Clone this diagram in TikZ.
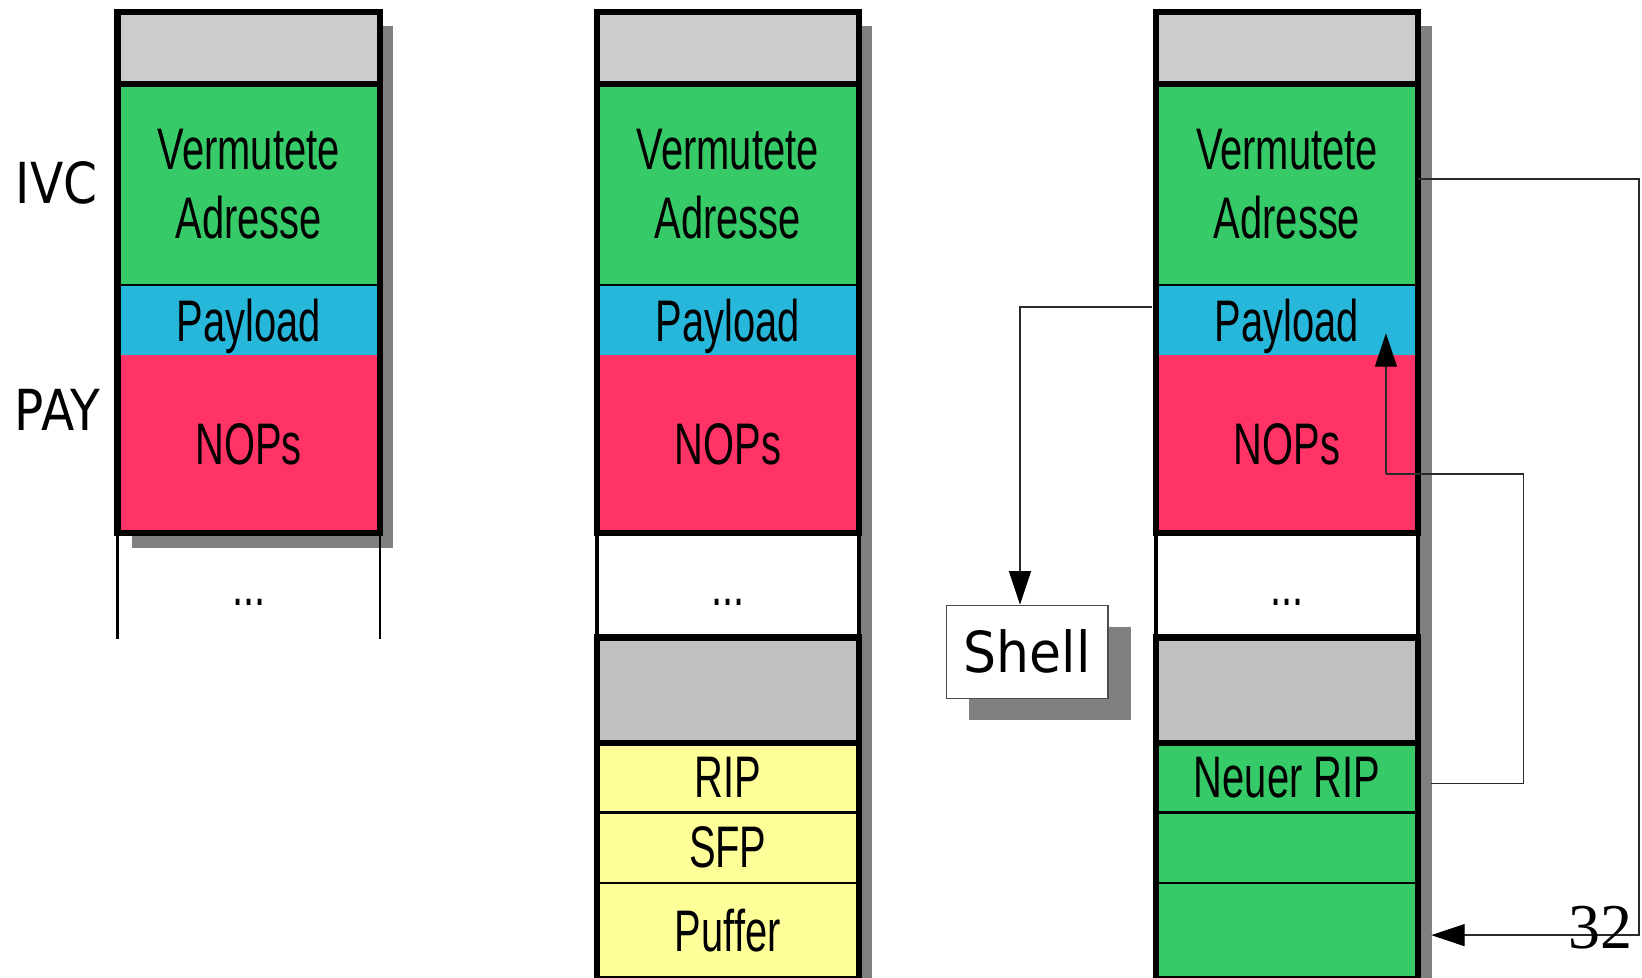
\documentclass[tikz,border=0pt]{standalone}
\usepackage{fontspec}
\usetikzlibrary{arrows.meta,calc}
\newfontfamily\cellfont[FakeStretch=0.68]{Liberation Sans}
\newfontfamily\labelfont[FakeStretch=0.86]{DejaVu Sans}
\newfontfamily\shellfont[FakeStretch=0.92]{DejaVu Sans}
\newfontfamily\numfont{Liberation Serif}
\definecolor{grayTop}{HTML}{CCCCCC}
\definecolor{grayLow}{HTML}{C0C0C0}
\definecolor{addrGreen}{HTML}{36CB68}
\definecolor{payBlue}{HTML}{26B7DB}
\definecolor{nopPink}{HTML}{FF3366}
\definecolor{frameYellow}{HTML}{FFFF99}
\definecolor{shadowGray}{HTML}{808080}
\definecolor{wireGray}{HTML}{2A2A2A}
\tikzset{
  cell/.style={rectangle, inner sep=0pt, minimum width=250pt, anchor=center,
    font=\cellfont\fontsize{56}{66}\selectfont, align=center, text=black},
  dotsText/.style={inner sep=0pt, anchor=base, font=\cellfont\fontsize{56}{66}\selectfont},
  sideLabel/.style={inner sep=0pt, anchor=center, font=\labelfont\fontsize{54}{60}\selectfont},
  thickBorder/.style={draw=black, line width=6pt},
  thinBorder/.style={draw=black, line width=2.6pt},
  sideBorder/.style={draw=black, line width=3.5pt},
  dropShadow/.style={fill=shadowGray},
  conn/.style={draw=wireGray, line width=1.3pt, -{Triangle[length=32pt,width=21pt,color=black]}},
  wire/.style={draw=wireGray, line width=1.3pt},
  shellBox/.style={rectangle, draw=black!70, line width=1.3pt, fill=white,
    minimum width=154pt, minimum height=89pt, inner sep=0pt,
    font=\shellfont\fontsize{54}{60}\selectfont}
}
\begin{document}
\begin{tikzpicture}[x=1pt, y=-1pt]
\useasboundingbox (0,0) rectangle (1568,933);
\fill[white] (0,0) rectangle (1568,933);

% ---------- left stack: shadow ----------
\fill[dropShadow] (126.5,25) rectangle (375,523);
% ---------- middle and right stacks: shadows ----------
\fill[dropShadow] (583,25) rectangle (833,950);
\fill[dropShadow] (1117,25) rectangle (1367,950);

% ---------- left stack ----------
\node[cell, fill=grayTop, minimum height=68pt] (aGray) at (237.5,46) {};
\node[cell, fill=addrGreen, minimum height=192pt] (aVA) at (237.5,176) {Vermutete\\Adresse};
\node[cell, fill=payBlue, minimum height=67pt, text depth=0pt] (aPay) at (237.5,305.5) {Payload};
\node[cell, fill=nopPink, minimum height=170pt] (aNop) at (237.5,424) {NOPs};
\draw[thickBorder] (aGray.north west) rectangle (aNop.south east);
\draw[thickBorder] (aGray.south west) -- (aGray.south east);
\draw[thinBorder] (aVA.south west) -- (aVA.south east);
\draw[line width=2.5pt] (aNop.south west) -- ($(aNop.south west)+(0,101)$);
\draw[line width=2.5pt] (aNop.south east) -- ($(aNop.south east)+(0,101)$);
\node[dotsText] (aDots) at (237.5,578) {...};

% side labels
\node[sideLabel] (ivc) at (54,175) {IVC};
\node[sideLabel] (pay) at (55,391) {PAY};

% ---------- middle stack ----------
\node[cell, fill=grayTop, minimum height=68pt] (bGray) at (695,46) {};
\node[cell, fill=addrGreen, minimum height=192pt] (bVA) at (695,176) {Vermutete\\Adresse};
\node[cell, fill=payBlue, minimum height=67pt, text depth=0pt] (bPay) at (695,305.5) {Payload};
\node[cell, fill=nopPink, minimum height=170pt] (bNop) at (695,424) {NOPs};
\node[cell, fill=white, minimum height=100pt] (bDots) at (695,559) {};
\node[dotsText] (bDotsText) at (695,578) {...};
\node[cell, fill=grayLow, minimum height=100pt] (bGray2) at (695,659) {};
\node[cell, fill=frameYellow, minimum height=66.5pt] (bRip) at (695,742.25) {RIP};
\node[cell, fill=frameYellow, minimum height=67.5pt] (bSfp) at (695,809.25) {SFP};
\node[cell, fill=frameYellow, minimum height=92pt] (bPuf) at (695,889) {Puffer};
\draw[thickBorder] (bGray.north west) rectangle (bNop.south east);
\draw[thickBorder] (bGray.south west) -- (bGray.south east);
\draw[thinBorder] (bVA.south west) -- (bVA.south east);
\draw[sideBorder] (bDots.north west) -- (bDots.south west);
\draw[sideBorder] (bDots.north east) -- (bDots.south east);
\draw[thickBorder] (bGray2.north west) rectangle (bPuf.south east);
\draw[thickBorder] (bGray2.south west) -- (bGray2.south east);
\draw[thinBorder] (bRip.south west) -- (bRip.south east);
\draw[thinBorder] (bSfp.south west) -- (bSfp.south east);

% ---------- right stack ----------
\node[cell, fill=grayTop, minimum height=68pt] (cGray) at (1229,46) {};
\node[cell, fill=addrGreen, minimum height=192pt] (cVA) at (1229,176) {Vermutete\\Adresse};
\node[cell, fill=payBlue, minimum height=67pt, text depth=0pt] (cPay) at (1229,305.5) {Payload};
\node[cell, fill=nopPink, minimum height=170pt] (cNop) at (1229,424) {NOPs};
\node[cell, fill=white, minimum height=100pt] (cDots) at (1229,559) {};
\node[dotsText] (cDotsText) at (1229,578) {...};
\node[cell, fill=grayLow, minimum height=100pt] (cGray2) at (1229,659) {};
\node[cell, fill=addrGreen, minimum height=66.5pt] (cNrip) at (1229,742.25) {Neuer RIP};
\node[cell, fill=addrGreen, minimum height=67.5pt] (cE1) at (1229,809.25) {};
\node[cell, fill=addrGreen, minimum height=92pt] (cE2) at (1229,889) {};
\draw[thickBorder] (cGray.north west) rectangle (cNop.south east);
\draw[thickBorder] (cGray.south west) -- (cGray.south east);
\draw[thinBorder] (cVA.south west) -- (cVA.south east);
\draw[sideBorder] (cDots.north west) -- (cDots.south west);
\draw[sideBorder] (cDots.north east) -- (cDots.south east);
\draw[thickBorder] (cGray2.north west) rectangle (cE2.south east);
\draw[thickBorder] (cGray2.south west) -- (cGray2.south east);
\draw[thinBorder] (cNrip.south west) -- (cNrip.south east);
\draw[thinBorder] (cE1.south west) -- (cE1.south east);

% ---------- shell box ----------
\fill[dropShadow] (925,599) rectangle (1080,688);
\node[shellBox] (shell) at (981,622.5) {Shell};

% ---------- connectors ----------
% payload jumps to the shell
\draw[conn] ($(cPay.west)+(-4,-12.5)$) -| ($(shell.north)+(-7,0)$);
% guessed address points back down the stack
\draw[conn] ($(cVA.east)+(0,-5)$) -- ++(211,0) |- ($(cE2.east)+(12.5,4)$);
% new return address lands in the NOP sled and slides to the payload
\coordinate (payIn) at ($(cPay.south)+(94.5,-21)$);
\coordinate (nopBend) at ($(cNop.south)+(94.5,-56.5)$);
\draw[wire] ($(cNrip.east)+(12.5,6)$) -- ++(88,0) |- (nopBend);
\draw[conn] (nopBend) -- (payIn);

% offset label
\node[inner sep=0pt, anchor=base, font=\numfont\fontsize{61}{61}\selectfont] (offset) at (1528,906) {32};
\end{tikzpicture}
\end{document}
